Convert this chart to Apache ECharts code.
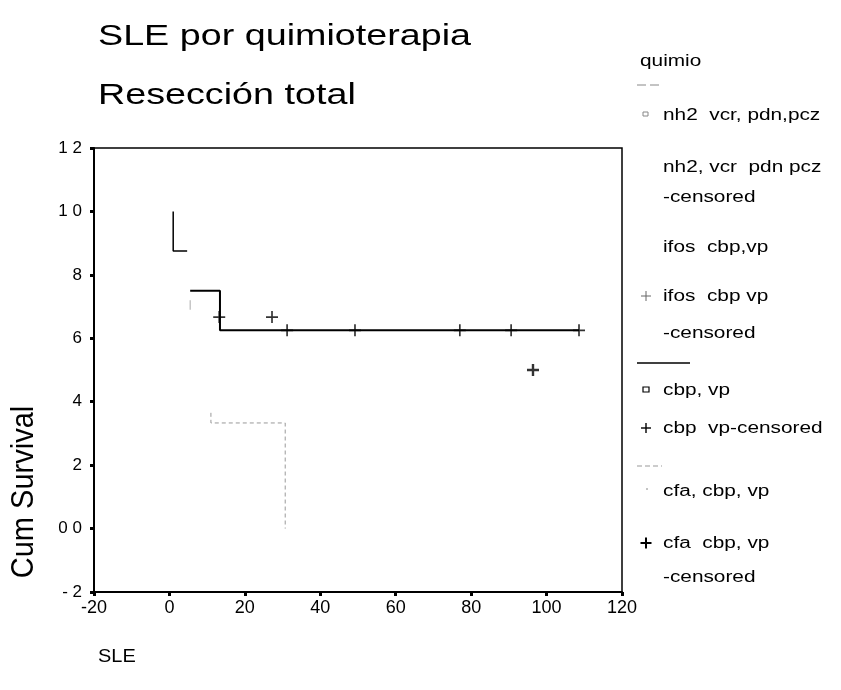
<!DOCTYPE html>
<html><head><meta charset="utf-8">
<script src="https://cdn.jsdelivr.net/npm/echarts@6/dist/echarts.min.js"></script>
<style>html,body{margin:0;padding:0;background:#fff}#c{width:841px;height:690px}</style>
</head><body><div id="c"></div>
<script>
// ---- data ----
const titleText = 'SLE por quimioterapia';
const subtitleText = 'Resección total';
const xAxisName = 'SLE';
const yAxisName = 'Cum Survival';
const legendTitle = 'quimio';
const yTickLabels = ['- 2', '0 0', '2', '4', '6', '8', '1 0', '1 2'];

const nh2Line = [[1, 1], [1, 0.875], [4.7, 0.875]];
const ifosLine = [[5.5, 0.72], [5.5, 0.69]];
const ifosCensored = [[13.2, 0.667], [27.2, 0.667]];
const cbpLine = [[5.5, 0.75], [13.4, 0.75], [13.4, 0.625], [108.6, 0.625]];
const cbpCensored = [[31.2, 0.625], [49.2, 0.625], [77, 0.625], [90.6, 0.625], [108.6, 0.625]];
const cfaLine = [[11, 0.365], [11, 0.333], [30.7, 0.333], [30.7, 0]];
const cfaCensored = [[96.4, 0.5]];

const legendLabels = [
  'nh2  vcr, pdn,pcz',
  'nh2, vcr  pdn pcz',
  '-censored',
  'ifos  cbp,vp',
  'ifos  cbp vp',
  '-censored',
  'cbp, vp',
  'cbp  vp-censored',
  'cfa, cbp, vp',
  'cfa  cbp, vp',
  '-censored'
];

// ---- rendering ----
const FONT = '"Liberation Sans", Arial, sans-serif';
const PLUS = 'path://M4.3,0H5.7V4.3H10V5.7H5.7V10H4.3V5.7H0V4.3H4.3Z';
const PLUS_BOLD = 'path://M4,0H6V4H10V6H6V10H4V6H0V4H4Z';
const SX = 1.3; // horizontal stretch of the scanned text

const chart = echarts.init(document.getElementById('c'), null, {renderer: 'canvas'});

function plus(cx, cy, a, w, color) {
  return [
    {type: 'line', shape: {x1: cx - a, y1: cy, x2: cx + a, y2: cy}, style: {stroke: color, lineWidth: w}},
    {type: 'line', shape: {x1: cx, y1: cy - a, x2: cx, y2: cy + a}, style: {stroke: color, lineWidth: w}}
  ];
}
function txt(x, y, t, size, extra) {
  return Object.assign({type: 'text', x: x, y: y, scaleX: SX,
    style: {text: t, font: size + 'px ' + FONT, fill: '#000', textVerticalAlign: 'middle'}}, extra || {});
}

const legendY = [116, 168, 198, 248, 297, 334, 391, 429, 492, 544, 578];
const LX = 663;
let graphics = [
  txt(98, 37, titleText, 29),
  txt(98, 96, subtitleText, 29),
  txt(98, 657, xAxisName, 19, {scaleX: 1.05}),
  {type: 'text', x: 9, y: 492, rotation: Math.PI / 2, scaleY: 1.05,
    style: {text: yAxisName, font: '29px ' + FONT, fill: '#000', textAlign: 'center', textVerticalAlign: 'top'}},
  txt(640, 62, legendTitle, 16),
  // legend samples
  {type: 'line', shape: {x1: 637, y1: 85, x2: 662, y2: 85}, style: {stroke: '#888', lineWidth: 1, lineDash: [9, 4]}},
  {type: 'rect', shape: {x: 643, y: 112, width: 5, height: 4}, style: {stroke: '#888', fill: 'none', lineWidth: 1}},
  {type: 'line', shape: {x1: 637, y1: 363, x2: 690, y2: 363}, style: {stroke: '#000', lineWidth: 1.5}},
  {type: 'rect', shape: {x: 643, y: 387, width: 6, height: 5}, style: {stroke: '#000', fill: 'none', lineWidth: 1.2}},
  {type: 'line', shape: {x1: 637, y1: 466, x2: 662, y2: 466}, style: {stroke: '#999', lineWidth: 1, lineDash: [5, 3]}},
  {type: 'line', shape: {x1: 646, y1: 489, x2: 648, y2: 489}, style: {stroke: '#888', lineWidth: 1}}
];
graphics = graphics.concat(plus(646, 296, 5, 1, '#666'), plus(646, 428, 5, 1.4, '#000'), plus(646, 543, 5.5, 2, '#000'));
legendLabels.forEach((t, i) => { graphics.push(txt(LX, legendY[i], t, 16)); });

chart.setOption({
  animation: false,
  backgroundColor: '#fff',
  grid: {left: 94, right: 219, top: 148, bottom: 98, show: true, borderColor: '#000', borderWidth: 1.5},
  xAxis: {
    type: 'value', min: -20, max: 120, interval: 20,
    axisLine: {show: true, onZero: false, lineStyle: {color: '#000', width: 2}},
    axisTick: {show: true, length: 4, lineStyle: {color: '#000', width: 3}},
    axisLabel: {color: '#000', fontSize: 18, fontFamily: FONT, margin: 7},
    splitLine: {show: false}
  },
  yAxis: {
    type: 'value', min: -0.2, max: 1.2, interval: 0.2,
    axisLine: {show: true, onZero: false, lineStyle: {color: '#000', width: 2}},
    axisTick: {show: true, length: 4, lineStyle: {color: '#000', width: 3}},
    axisLabel: {color: '#000', fontSize: 17, fontFamily: FONT, margin: 12,
      formatter: v => yTickLabels[Math.round((v + 0.2) / 0.2)]},
    splitLine: {show: false}
  },
  graphic: graphics,
  series: [
    {name: 'nh2  vcr, pdn,pcz', type: 'line', data: nh2Line, symbol: 'none', lineStyle: {color: '#000', width: 1.5}},
    {name: 'ifos  cbp,vp', type: 'line', data: ifosLine, symbol: 'none', lineStyle: {color: '#aaa', width: 1}},
    {name: 'ifos  cbp vp-censored', type: 'scatter', data: ifosCensored, symbol: PLUS, symbolSize: 12, itemStyle: {color: '#000'}},
    {name: 'cbp, vp', type: 'line', data: cbpLine, symbol: 'none', lineStyle: {color: '#000', width: 2}},
    {name: 'cbp  vp-censored', type: 'scatter', data: cbpCensored, symbol: PLUS, symbolSize: 12, itemStyle: {color: '#000'}},
    {name: 'cfa, cbp, vp', type: 'line', data: cfaLine, symbol: 'none', lineStyle: {color: '#999', width: 1, type: [4, 3]}},
    {name: 'cfa  cbp, vp-censored', type: 'scatter', data: cfaCensored, symbol: PLUS_BOLD, symbolSize: 12, itemStyle: {color: '#000'}}
  ]
});
</script></body></html>
